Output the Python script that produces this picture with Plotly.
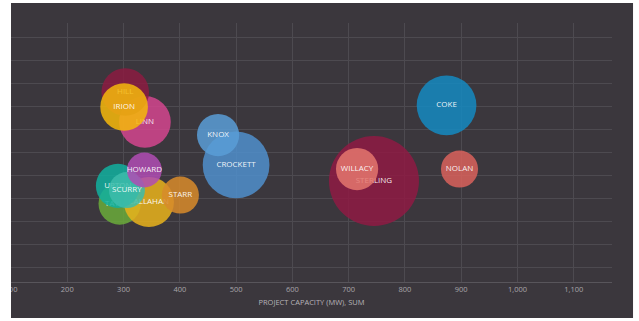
import plotly.graph_objects as go

# ---- data ----
counties = ["STERLING", "CROCKETT", "COKE", "KNOX", "WILLACY", "NOLAN", "LINN", "HILL", "IRION",
            "TAYLOR", "CALLAHAN", "STARR", "UPTON", "SCURRY", "HOWARD"]
capacity = [745, 500, 874, 468, 715, 897, 338, 303, 301,
            293, 345, 401, 290, 306, 337]
metric = [37.8, 44.8, 70.7, 57.8, 43.0, 43.0, 63.5, 76.5, 70.0,
          28.0, 28.7, 31.7, 35.7, 33.9, 42.6]
bubble = [100, 55, 44, 22, 22, 17, 33, 28, 28,
          22, 31, 17, 24, 16, 15]
colors = ["#8e1b43", "#4f8fcc", "#1589c0", "#5a9dd6", "#e4766d", "#d8625c", "#d3468e", "#8b1c41", "#f4b80c",
          "#6aab3a", "#e8b21c", "#d78b2b", "#12b09e", "#3cbcab", "#b04db3"]

x_ticks = list(range(100, 1200, 100))

BG = "#3b373d"
FONT = "Open Sans, Segoe UI, sans-serif"
max_diam = 90
sizeref = 2.0 * max(bubble) / (max_diam ** 2)

fig = go.Figure()
for name, xv, yv, sv, col in zip(counties, capacity, metric, bubble, colors):
    fig.add_trace(go.Scatter(
        x=[xv], y=[yv], mode="markers+text", text=[name],
        textposition="middle center",
        textfont=dict(family=FONT, size=8, color="rgba(255,255,255,0.92)"),
        marker=dict(size=[sv], sizemode="area", sizeref=sizeref, color=col, opacity=0.86,
                    line=dict(width=0)),
        showlegend=False, hoverinfo="skip", cliponaxis=False,
    ))

fig.update_layout(
    width=639, height=321,
    margin=dict(l=11, r=27, t=23, b=39, autoexpand=False),
    paper_bgcolor="white",
    plot_bgcolor=BG,
    showlegend=False,
    shapes=[
        dict(type="rect", xref="paper", yref="paper", x0=0, x1=1.035, y0=-0.139, y1=1.077,
             fillcolor=BG, line=dict(width=0), layer="below"),
        dict(type="rect", xref="paper", yref="paper", x0=-0.05, x1=0, y0=-0.2, y1=1.1,
             fillcolor="white", line=dict(width=0), layer="above"),
    ],
)

fig.update_xaxes(
    automargin=False,
    range=[100, 1168], tickvals=x_ticks, tickformat=",",
    showgrid=True, gridcolor="#4d4a50", gridwidth=1,
    zeroline=False, showline=True, linecolor="#58555b", linewidth=1,
    ticks="", tickfont=dict(family=FONT, size=7.5, color="#a8a5aa"),
    title=dict(text="PROJECT CAPACITY (MW), SUM", standoff=6,
               font=dict(family=FONT, size=7.5, color="#b5b2b7")),
)
fig.update_yaxes(
    automargin=False,
    range=[-6.09, 106.5], dtick=10, tick0=0,
    showgrid=True, gridcolor="#4d4a50", gridwidth=1,
    zeroline=False, showticklabels=False, showline=False, ticks="",
)

fig.write_html("out.html", config={"displayModeBar": False},
               post_script="document.body.style.margin='0px';document.body.style.overflow='hidden';")
